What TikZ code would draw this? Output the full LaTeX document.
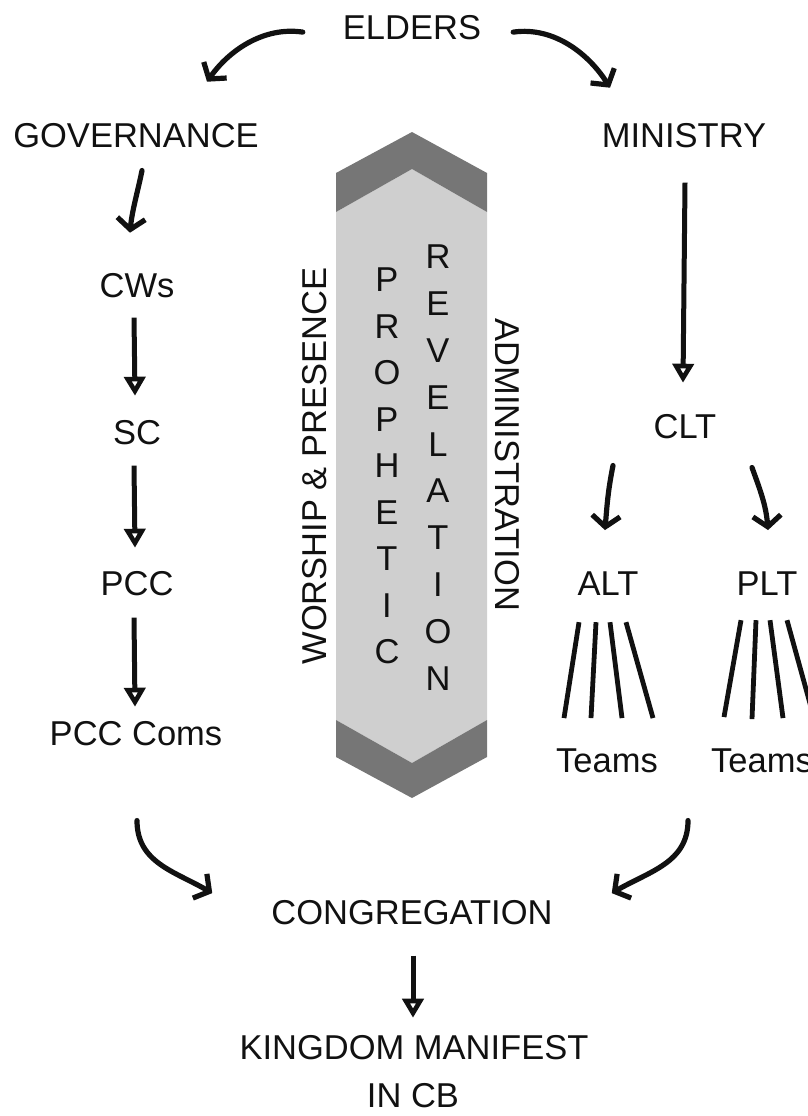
\documentclass[tikz,border=0pt]{standalone}
\usepackage{fontspec}
\setmainfont{Liberation Sans}
\usetikzlibrary{arrows.meta,calc}
\definecolor{darkband}{HTML}{767676}
\definecolor{lightband}{HTML}{CFCFCF}
\definecolor{ink}{HTML}{111111}
\begin{document}
\begin{tikzpicture}[x=1pt,y=-1pt,
  lbl/.style={inner sep=0pt, anchor=base, text=ink, font=\fontsize{34.5}{40}\selectfont},
  ltr/.style={inner sep=0pt, anchor=center, text=ink, font=\fontsize{34.5}{40}\selectfont},
  curvy/.style={draw=ink, line width=5.2pt, line cap=round,
     -{Straight Barb[length=11pt,width=28pt,line width=5.2pt]}},
  straight/.style={draw=ink, line width=5pt,
     -{Triangle[open,length=19pt,width=21pt,line width=4.6pt]}},
  fan/.style={draw=ink, line width=4.8pt}]
\useasboundingbox (0,0) rectangle (807,1116);

% central band
\fill[lightband] (336,212) -- (412,169) -- (487,212) -- (487,720) -- (412,763) -- (336,720) -- cycle;
\fill[darkband] (336,173) -- (412,132) -- (487,173) -- (487,212) -- (412,169) -- (336,212) -- cycle;
\fill[darkband] (336,720) -- (412,763) -- (487,720) -- (487,757) -- (412,798) -- (336,757) -- cycle;

% labels
\node[lbl] (elders) at (412,40) {ELDERS};
\node[lbl] (gov) at (136,147) {GOVERNANCE};
\node[lbl] (min) at (684,147) {MINISTRY};
\node[lbl] (cws) at (137,297) {CWs};
\node[lbl] (sc) at (137,444) {SC};
\node[lbl] (pcc) at (137,595) {PCC};
\node[lbl] (coms) at (136,745) {PCC Coms};
\node[lbl] (clt) at (685,438) {CLT};
\node[lbl] (alt) at (608,595) {ALT};
\node[lbl] (plt) at (767,595) {PLT};
\node[lbl] (teamsL) at (607,772) {Teams};
\node[lbl] (teamsR) at (762,772) {Teams};
\node[lbl] (cong) at (412,924) {CONGREGATION};
\node[lbl] (king) at (414,1059) {KINGDOM MANIFEST};
\node[lbl] (incb) at (413,1107) {IN CB};

% vertical texts
\node[ltr, rotate=90] (worship) at (315,466) {WORSHIP \& PRESENCE};
\node[ltr, rotate=-90] (admin) at (507,465) {ADMINISTRATION};
\foreach \l [count=\i from 0] in {P,R,O,P,H,E,T,I,C}
  \node[ltr] (pro\i) at (387,280+46.5*\i) {\l};
\foreach \l [count=\i from 0] in {R,E,V,E,L,A,T,I,O,N}
  \node[ltr] (rev\i) at (438,257+46.8*\i) {\l};

% curved connectors
\draw[curvy] ($(elders.west)+(-40,4)$) .. controls +(-40,-6) and +(21,-30) .. ($(gov.north)+(71,-41)$);
\draw[curvy] ($(elders.east)+(32,4)$) .. controls +(42,-6) and +(-20,-32) .. ($(min.north)+(-74,-35)$);
\draw[curvy] ($(gov.south)+(6,23)$) .. controls +(-4,20) and +(2,-22) .. ($(cws.north)+(-7,-40)$);
\draw[curvy] ($(clt.south)+(-72,27)$) .. controls +(-5,25) and +(2,-25) .. ($(alt.north)+(-3,-41)$);
\draw[curvy] ($(clt.south)+(67,29)$) .. controls +(8,22) and +(-2,-25) .. ($(plt.north)+(1,-41)$);
\draw[curvy] ($(coms.south)+(1,75)$) .. controls +(0,42) and +(-38,-22) .. ($(cong.west)+(-59,-19)$);
\draw[curvy] ($(teamsL.south)+(81,48)$) .. controls +(0,42) and +(38,-22) .. ($(cong.east)+(59,-19)$);

% straight connectors
\draw[straight] ($(cws.south)+(-3,20)$) -- ($(sc.north)+(-2,-24)$);
\draw[straight] ($(sc.south)+(-3,21)$) -- ($(pcc.north)+(-2,-23)$);
\draw[straight] ($(pcc.south)+(-3,22)$) -- ($(coms.north)+(-1,-14)$);
\draw[straight] ($(min.south)+(1,35)$) -- ($(clt.north)+(-2,-31)$);
\draw[straight] ($(cong.south)+(1,31)$) -- ($(king.north)+(-1,-17)$);

% fans
\draw[fan] ($(alt.south)+(-29,27)$) -- ($(teamsL.north)+(-43,-30)$);
\draw[fan] ($(alt.south)+(-12,27)$) -- ($(teamsL.north)+(-16,-30)$);
\draw[fan] ($(alt.south)+(2,27)$) -- ($(teamsL.north)+(15,-30)$);
\draw[fan] ($(alt.south)+(18,27)$) -- ($(teamsL.north)+(46,-30)$);
\draw[fan] ($(plt.south)+(-26,25)$) -- ($(teamsR.north)+(-38,-31)$);
\draw[fan] ($(plt.south)+(-11,25)$) -- ($(teamsR.north)+(-10,-29)$);
\draw[fan] ($(plt.south)+(3,25)$) -- ($(teamsR.north)+(21,-30)$);
\draw[fan] ($(plt.south)+(20,25)$) -- ($(teamsR.north)+(52,-30)$);
\end{tikzpicture}
\end{document}
